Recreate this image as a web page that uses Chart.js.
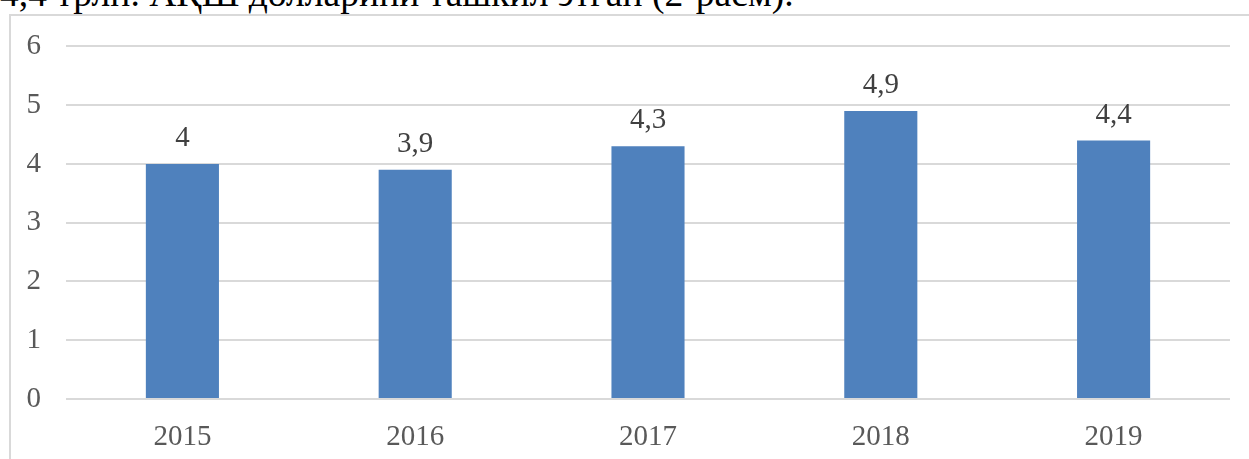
<!DOCTYPE html>
<html>
<head>
<meta charset="utf-8">
<script src="https://cdn.jsdelivr.net/npm/chart.js@4"></script>
<style>
  html, body { margin: 0; padding: 0; background: #fff; overflow: hidden; }
  body { width: 1249px; height: 459px; position: relative; font-family: "Liberation Serif", serif; }
  #caption { position: absolute; left: 0; top: -28px; font-size: 37.6px; color: #000; white-space: nowrap; }
  #box { position: absolute; left: 9px; top: 14px; width: 1260px; height: 470px;
         border-top: 2px solid #d9d9d9; border-left: 2px solid #d9d9d9; box-sizing: border-box; }
  #wrap { position: absolute; left: 9px; top: 4px; width: 1240px; height: 455px; }
</style>
</head>
<body>
<div id="caption">4,4 трлн. АҚШ долларини ташкил этган (2-расм).</div>
<div id="box"></div>
<div id="wrap"><canvas id="myChart"></canvas></div>
<script>
// years on the x axis and the values above each bar
const years = ['2015', '2016', '2017', '2018', '2019'];
const values = [4, 3.9, 4.3, 4.9, 4.4];
const valueLabels = ['4', '3,9', '4,3', '4,9', '4,4'];

const textColor = '#595959';

// simple value labels above the bars
const barLabels = {
  id: 'barLabels',
  afterDatasetsDraw(chart) {
    const ctx = chart.ctx;
    const meta = chart.getDatasetMeta(0);
    ctx.save();
    ctx.font = '29px "Liberation Serif"';
    ctx.fillStyle = '#404040';
    ctx.textAlign = 'center';
    ctx.textBaseline = 'bottom';
    meta.data.forEach((bar, i) => {
      ctx.fillText(valueLabels[i], bar.x, bar.y - 11);
    });
    ctx.restore();
  }
};

const config = {
  type: 'bar',
  data: {
    labels: years,
    datasets: [{
      data: values,
      backgroundColor: '#4f81bd',
      categoryPercentage: 1,
      barPercentage: 0.314
    }]
  },
  options: {
    responsive: true,
    maintainAspectRatio: false,
    animation: false,
    layout: { padding: { top: 4, right: 19, left: 0, bottom: 0 } },
    plugins: {
      legend: { display: false },
      tooltip: { enabled: false }
    },
    scales: {
      x: {
        grid: { display: false },
        border: { display: false },
        ticks: { color: textColor, font: { family: 'Liberation Serif', size: 29 }, padding: 13 },
        afterFit(scale) { scale.height = 60; }
      },
      y: {
        min: 0,
        max: 6,
        ticks: { stepSize: 1, color: textColor, font: { family: 'Liberation Serif', size: 29 }, padding: 25 },
        grid: { color: '#d9d9d9', lineWidth: 2, drawTicks: false },
        border: { display: false },
        afterFit(scale) { scale.width = 57; }
      }
    }
  },
  plugins: [barLabels]
};

new Chart(document.getElementById('myChart'), config);
</script>
</body>
</html>
